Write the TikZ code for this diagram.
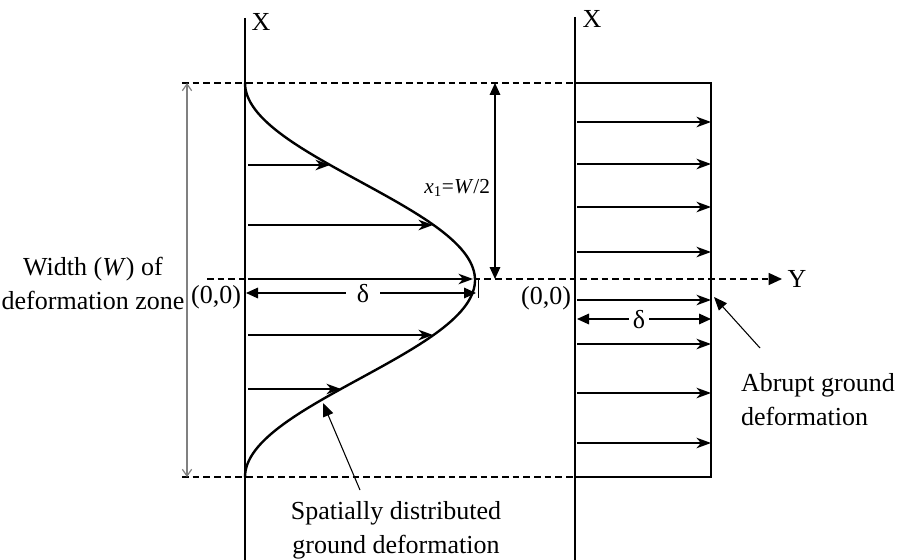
\documentclass[tikz,border=0pt]{standalone}
\usepackage{fontspec}
\setmainfont{Liberation Serif}
\usetikzlibrary{arrows.meta}
\begin{document}
\begin{tikzpicture}[x=0.75pt,y=-0.75pt,
  every node/.style={inner sep=0pt, outer sep=0pt},
  lbl/.style={font=\fontsize{19.5}{25.5}\selectfont},
  smalllbl/.style={font=\fontsize{16}{19}\selectfont},
  axisline/.style={line width=2pt},
  boxline/.style={line width=1pt},
  dashline/.style={line width=1.1pt, dash pattern=on 5pt off 3pt},
  vec/.style={line width=0.9pt, -{Stealth[length=11pt,width=8pt,inset=3.5pt]}},
  dimarrow/.style={line width=0.9pt, {Triangle[length=9pt,width=8pt]}-{Triangle[length=9pt,width=8pt]}},
  ptr/.style={line width=0.8pt, -{Triangle[length=10pt,width=8pt]}},
  warrow/.style={line width=0.9pt, gray, {Straight Barb[length=5pt,width=7pt]}-{Straight Barb[length=5pt,width=7pt]}},
]
\useasboundingbox (0,0) rectangle (904,560);
% key points
\coordinate (LAt) at (245,18); \coordinate (LAb) at (245,560);
\coordinate (RAt) at (575,17); \coordinate (RAb) at (575,560);
\coordinate (TDl) at (182,83); \coordinate (TDr) at (575,83);
\coordinate (BDl) at (182,477); \coordinate (BDr) at (575,477);
\coordinate (BoxTR) at (711,83); \coordinate (BoxBR) at (711,477);
\coordinate (Ys) at (207,279); \coordinate (Ye) at (782,279);
\coordinate (Wt) at (187,83); \coordinate (Wb) at (187,477);
\coordinate (Xt) at (495,83); \coordinate (Xb) at (495,279);
% axes
\draw[axisline] (LAt) -- (LAb);
\draw[axisline] (RAt) -- (RAb);
\node[lbl] (XL) at (261,22) {X};
\node[lbl] (XR) at (592,19) {X};
% dashed limits and box
\draw[dashline] (TDl) -- (TDr);
\draw[dashline] (BDl) -- (BDr);
\draw[boxline] (TDr) -- (BoxTR) -- (BoxBR) -- (BDr);
% Y axis
\draw[dashline] (Ys) -- (Ye);
\draw[line width=1pt, -{Triangle[length=10pt,width=9pt]}] ([xshift=-2pt]Ye) -- (Ye);
\node[lbl] (Ylab) at (797,279) {Y};
% width arrow
\draw[warrow] (Wt) -- (Wb);
\node[lbl, align=center] (Wlab) at (93,283) {Width (\textit{W}) of\\deformation zone};
% curve
\draw[line width=1.8pt] plot[domain=83:477, samples=120] ({245+115*(1+cos((\x-280)/197*180))}, \x);
% left vectors
\foreach \y/\t in {165/330,225/433,279/473,335/433,389/341}{
  \coordinate (ls\y) at (248,\y); \coordinate (le\y) at (\t,\y);
  \draw[vec] (ls\y) -- (le\y);
}
% right vectors
\foreach \y in {122,164,207,252,300,344,393,443}{
  \coordinate (rs\y) at (577,\y); \coordinate (re\y) at (711,\y);
  \draw[vec] (rs\y) -- (re\y);
}
% x1 = W/2
\draw[dimarrow] (Xt) -- (Xb);
\node[smalllbl, anchor=east] (x1lab) at (490,188) {\textit{x}\textsubscript{1}=\textit{W}/2};
% left delta
\coordinate (dl1) at (246,293); \coordinate (dl2) at (476,293);
\draw[dimarrow] (dl1) -- (dl2);
\node[lbl, fill=white, inner xsep=8pt, inner ysep=1pt] (dlab) at (363,294) {δ};
\coordinate (tk1) at (478,279); \coordinate (tk2) at (478,298);
\draw[line width=0.7pt] (tk1) -- (tk2);
% right delta
\coordinate (dr1) at (577,319); \coordinate (dr2) at (711,319);
\draw[dimarrow] (dr1) -- (dr2);
\node[lbl, fill=white, inner xsep=3pt, inner ysep=1pt] (drlab) at (639,320) {δ};
% origin labels
\node[lbl] (O1) at (216,297) {(0,0)};
\node[lbl] (O2) at (546,298) {(0,0)};
% pointers
\node[lbl, align=left, anchor=west] (ablab) at (741,400) {Abrupt ground\\deformation};
\coordinate (abs) at (760,348); \coordinate (abe) at (714,297);
\draw[ptr] (abs) -- (abe);
\node[lbl, align=center] (splab) at (396,530) {Spatially distributed\\ground deformation};
\coordinate (sps) at (360,490); \coordinate (spe) at (323,403);
\draw[ptr] (sps) -- (spe);
\end{tikzpicture}
\end{document}
